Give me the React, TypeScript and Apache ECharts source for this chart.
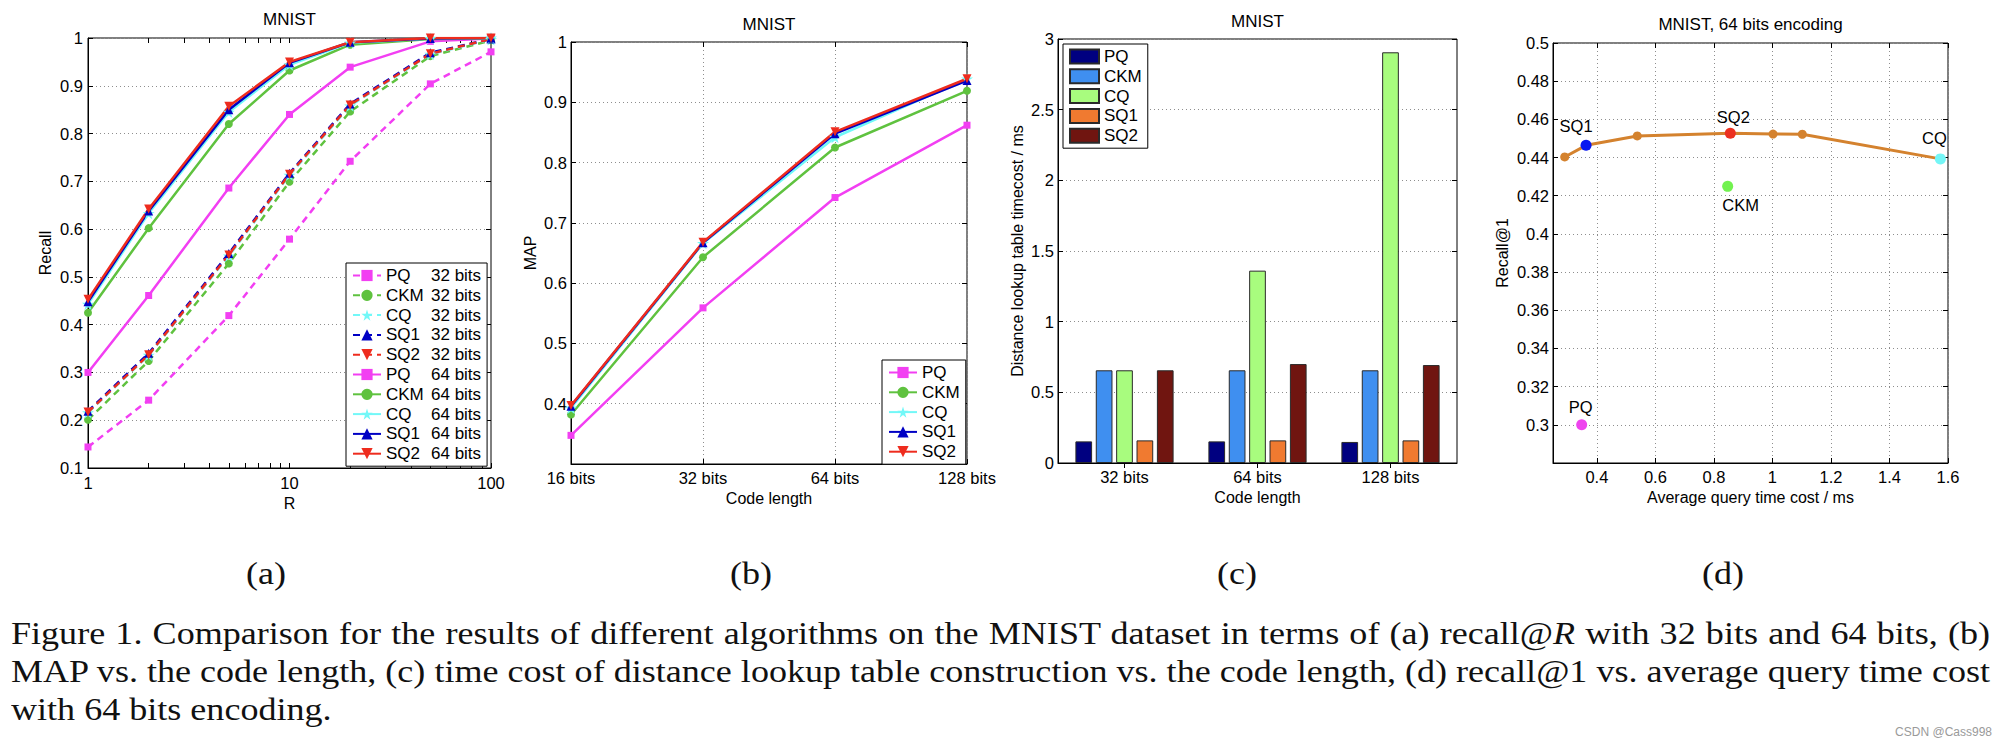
import React, { useEffect, useRef } from 'react';
import * as echarts from 'echarts';

// ---------------- data ----------------
// (a) recall@R
const rValues = [1, 2, 5, 10, 20, 50, 100];
const recallPQ32 = [0.144, 0.242, 0.419, 0.579, 0.742, 0.904, 0.971];
const recallCKM32 = [0.201, 0.324, 0.528, 0.699, 0.846, 0.962, 0.995];
const recallCQ32 = [0.216, 0.336, 0.544, 0.713, 0.858, 0.966, 0.997];
const recallSQ1_32 = [0.219, 0.34, 0.549, 0.717, 0.862, 0.969, 0.998];
const recallSQ2_32 = [0.217, 0.337, 0.546, 0.715, 0.86, 0.967, 0.998];
const recallPQ64 = [0.3, 0.461, 0.686, 0.84, 0.939, 0.993, 0.999];
const recallCKM64 = [0.425, 0.602, 0.82, 0.932, 0.986, 0.998, 0.999];
const recallCQ64 = [0.443, 0.633, 0.845, 0.944, 0.99, 0.999, 1.0];
const recallSQ1_64 = [0.448, 0.638, 0.85, 0.948, 0.991, 0.999, 1.0];
const recallSQ2_64 = [0.453, 0.642, 0.857, 0.95, 0.991, 1.0, 1.0];
const rTickValues = [1, 2, 3, 4, 5, 6, 7, 8, 9, 10, 20, 30, 40, 50, 60, 70, 80, 90, 100];

// (b) MAP vs code length
const codeLengthsB = ['16 bits', '32 bits', '64 bits', '128 bits'];
const mapPQ = [0.3475, 0.559, 0.742, 0.862];
const mapCKM = [0.382, 0.643, 0.825, 0.919];
const mapCQ = [0.393, 0.666, 0.842, 0.939];
const mapSQ1 = [0.396, 0.667, 0.848, 0.936];
const mapSQ2 = [0.397, 0.668, 0.851, 0.939];

// (c) distance lookup table timecost
const codeLengthsC = ['32 bits', '64 bits', '128 bits'];
const timePQ = [0.153, 0.153, 0.149];
const timeCKM = [0.656, 0.656, 0.656];
const timeCQ = [0.656, 1.361, 2.906];
const timeSQ1 = [0.16, 0.16, 0.16];
const timeSQ2 = [0.656, 0.7, 0.693];

// (d) recall@1 vs average query time
const sqCurveTime = [0.29, 0.363, 0.538, 0.856, 1.002, 1.102, 1.574];
const sqCurveRecall = [0.4403, 0.4464, 0.4513, 0.4527, 0.4523, 0.4522, 0.4393];
const methodNamesD = ['SQ1', 'SQ2', 'CQ', 'CKM', 'PQ'];
const methodTimeD = [0.363, 0.856, 1.574, 0.847, 0.348];
const methodRecallD = [0.4464, 0.4527, 0.4393, 0.4249, 0.3];
const dTickValues = [0.4, 0.6, 0.8, 1.0, 1.2, 1.4, 1.6];

// caption
const subLabels = ['(a)', '(b)', '(c)', '(d)'];
const captionLine1a = 'Figure 1. Comparison for the results of different algorithms on the MNIST dataset in terms of (a) recall@';
const captionLine1Italic = 'R';
const captionLine1b = ' with 32 bits and 64 bits, (b)';
const captionLine2 = 'MAP vs. the code length, (c) time cost of distance lookup table construction vs. the code length, (d) recall@1 vs. average query time cost';
const captionLine3 = 'with 64 bits encoding.';
const watermark = 'CSDN @Cass998';

// ---------------- styles ----------------
const FONT = '"Liberation Sans", Arial, Helvetica, sans-serif';
const SERIF = '"Liberation Serif", "Times New Roman", Times, serif';
const BLACK = '#000';

const COLORS: Record<string, string> = {
  PQ: '#f23ff2',
  CKM: '#5fc23f',
  CQ: '#72f8f8',
  SQ1: '#0000c4',
  SQ2: '#ee2c1e',
};
const BAR_COLORS: Record<string, string> = {
  PQ: '#000080',
  CKM: '#3f8ff0',
  CQ: '#a8fc7e',
  SQ1: '#f07a30',
  SQ2: '#701510',
};
const D_COLORS: Record<string, string> = {
  line: '#d4822e',
  SQ1: '#0818f0',
  SQ2: '#ec3020',
  CQ: '#74f6f6',
  CKM: '#72f250',
  PQ: '#ee44ee',
};
const STAR = 'path://M50,0 L61,35 L98,35 L68,57 L79,91 L50,70 L21,91 L32,57 L2,35 L39,35 Z';
const SYMBOLS: Record<string, string> = { PQ: 'rect', CKM: 'circle', CQ: STAR, SQ1: 'triangle', SQ2: 'triangle' };
const SYMBOL_SIZE: Record<string, number> = { PQ: 7, CKM: 8, CQ: 12, SQ1: 9, SQ2: 9 };

const METHODS = ['PQ', 'CKM', 'CQ', 'SQ1', 'SQ2'];

const axisLineBlack = { show: true, onZero: false, lineStyle: { color: BLACK, width: 1 } };
const tickIn = { show: true, inside: true, length: 5, lineStyle: { color: BLACK, width: 1 } };
const dotted = { show: true, lineStyle: { color: '#8e8e8e', width: 1, type: [1, 3] } };
const noSplit = { show: false };
const labelBase = { color: BLACK, fontSize: 16.5, fontFamily: FONT };
const nameBase = { color: BLACK, fontSize: 16, fontFamily: FONT };
const hidden = { show: false };

function buildOption() {
  const aDefs = [
    { name: 'PQ 32 bits', m: 'PQ', data: recallPQ32, dashed: true },
    { name: 'CKM 32 bits', m: 'CKM', data: recallCKM32, dashed: true },
    { name: 'CQ 32 bits', m: 'CQ', data: recallCQ32, dashed: true },
    { name: 'SQ1 32 bits', m: 'SQ1', data: recallSQ1_32, dashed: true },
    { name: 'SQ2 32 bits', m: 'SQ2', data: recallSQ2_32, dashed: true },
    { name: 'PQ 64 bits', m: 'PQ', data: recallPQ64, dashed: false },
    { name: 'CKM 64 bits', m: 'CKM', data: recallCKM64, dashed: false },
    { name: 'CQ 64 bits', m: 'CQ', data: recallCQ64, dashed: false },
    { name: 'SQ1 64 bits', m: 'SQ1', data: recallSQ1_64, dashed: false },
    { name: 'SQ2 64 bits', m: 'SQ2', data: recallSQ2_64, dashed: false },
  ];
  const bData: Record<string, number[]> = { PQ: mapPQ, CKM: mapCKM, CQ: mapCQ, SQ1: mapSQ1, SQ2: mapSQ2 };
  const cData: Record<string, number[]> = { PQ: timePQ, CKM: timeCKM, CQ: timeCQ, SQ1: timeSQ1, SQ2: timeSQ2 };

  const lineSeries = (name: string, m: string, data: any[], xi: number, dashed: boolean) => ({
    type: 'line',
    name,
    xAxisIndex: xi,
    yAxisIndex: xi,
    data,
    symbol: SYMBOLS[m],
    symbolSize: SYMBOL_SIZE[m],
    symbolRotate: m === 'SQ2' ? 180 : 0,
    showSymbol: true,
    showAllSymbol: true,
    lineStyle: { color: COLORS[m], width: 2.5, type: dashed ? [7, 5] : 'solid' },
    itemStyle: { color: COLORS[m], opacity: 1 },
    emphasis: { disabled: true },
    silent: true,
  });

  const series: any[] = [];
  aDefs.forEach((d) => {
    series.push(lineSeries(d.name, d.m, rValues.map((r, i) => [r, d.data[i]]), 0, d.dashed));
  });
  METHODS.forEach((m) => {
    series.push(lineSeries(m, m, bData[m], 2, false));
  });
  METHODS.forEach((m) => {
    series.push({
      type: 'bar',
      name: m + ' (c)',
      xAxisIndex: 4,
      yAxisIndex: 4,
      data: cData[m],
      barWidth: 16.7,
      barGap: '22%',
      itemStyle: { color: BAR_COLORS[m], borderColor: '#2a2a2a', borderWidth: 1 },
      emphasis: { disabled: true },
      silent: true,
    });
  });
  series.push({
    type: 'line',
    name: 'SQ curve (d)',
    xAxisIndex: 6,
    yAxisIndex: 6,
    data: sqCurveTime.map((t, i) => [t, sqCurveRecall[i]]),
    symbol: 'circle',
    symbolSize: 9,
    lineStyle: { color: D_COLORS.line, width: 3 },
    itemStyle: { color: D_COLORS.line, opacity: 1 },
    emphasis: { disabled: true },
    silent: true,
    z: 2,
  });
  const labelPos: Record<string, any> = {
    SQ1: { position: 'top', distance: 5, offset: [-10, 0] },
    SQ2: { position: 'top', distance: 2, offset: [3, 0] },
    CQ: { position: 'top', distance: 7, offset: [-6, 0] },
    CKM: { position: 'bottom', distance: 5, offset: [13, 0] },
    PQ: { position: 'top', distance: 4, offset: [-1, 0] },
  };
  series.push({
    type: 'scatter',
    name: 'methods (d)',
    xAxisIndex: 6,
    yAxisIndex: 6,
    symbolSize: 11,
    z: 5,
    itemStyle: { opacity: 1 },
    data: methodNamesD.map((n, i) => ({
      name: n,
      value: [methodTimeD[i], methodRecallD[i]],
      itemStyle: { color: D_COLORS[n], opacity: 1 },
      label: { show: true, formatter: '{b}', color: BLACK, fontSize: 16.5, fontFamily: FONT, ...labelPos[n] },
    })),
    emphasis: { disabled: true },
    silent: true,
  });

  const legendCommon = {
    orient: 'vertical',
    itemWidth: 28,
    itemHeight: 14,
    itemGap: 2.8,
    padding: [4, 6, 4, 6],
    backgroundColor: '#fff',
    borderColor: BLACK,
    borderWidth: 1,
    borderRadius: 0,
    selectedMode: false,
    textStyle: { color: BLACK, fontSize: 17, fontFamily: FONT, lineHeight: 17 },
  };

  const grids = [
    { left: 88, top: 38, width: 403, height: 430 },
    { left: 571, top: 42, width: 396, height: 422 },
    { left: 1058, top: 39, width: 399, height: 424 },
    { left: 1553, top: 43, width: 395, height: 420 },
  ].map((g) => ({ ...g, show: true, borderColor: BLACK, borderWidth: 1, backgroundColor: 'transparent', containLabel: false }));

  const yFmt = (hideBelow: number) => (v: number) => (v < hideBelow ? '' : String(parseFloat(v.toFixed(4))));

  const xAxis = [
    {
      gridIndex: 0, type: 'log', logBase: 10, min: 1, max: 100, position: 'bottom',
      axisLine: axisLineBlack, axisTick: { ...tickIn, customValues: rTickValues },
      axisLabel: { ...labelBase, margin: 6 }, splitLine: noSplit,
      name: 'R', nameLocation: 'middle', nameGap: 21, nameTextStyle: nameBase,
    },
    {
      gridIndex: 0, type: 'log', logBase: 10, min: 1, max: 100, position: 'top',
      axisLine: hidden, axisTick: { ...tickIn, customValues: rTickValues }, axisLabel: hidden, splitLine: noSplit,
    },
    {
      gridIndex: 1, type: 'category', data: codeLengthsB, boundaryGap: false, position: 'bottom',
      axisLine: axisLineBlack, axisTick: { ...tickIn, interval: 0 }, axisLabel: { ...labelBase, margin: 5, interval: 0 },
      splitLine: { ...dotted, interval: 0 },
      name: 'Code length', nameLocation: 'middle', nameGap: 21, nameTextStyle: nameBase,
    },
    {
      gridIndex: 1, type: 'category', data: codeLengthsB, boundaryGap: false, position: 'top',
      axisLine: hidden, axisTick: { ...tickIn, interval: 0 }, axisLabel: hidden, splitLine: noSplit,
    },
    {
      gridIndex: 2, type: 'category', data: codeLengthsC, boundaryGap: true, position: 'bottom',
      axisLine: axisLineBlack, axisTick: { ...tickIn, alignWithLabel: true, interval: 0 },
      axisLabel: { ...labelBase, margin: 5, interval: 0 }, splitLine: noSplit,
      name: 'Code length', nameLocation: 'middle', nameGap: 20, nameTextStyle: nameBase,
    },
    {
      gridIndex: 2, type: 'category', data: codeLengthsC, boundaryGap: true, position: 'top',
      axisLine: hidden, axisTick: { ...tickIn, alignWithLabel: true, interval: 0 }, axisLabel: hidden, splitLine: noSplit,
    },
    {
      gridIndex: 3, type: 'value', min: 0.25, max: 1.6, splitNumber: 7, position: 'bottom',
      axisLine: axisLineBlack, axisTick: { ...tickIn, customValues: dTickValues },
      axisLabel: { ...labelBase, margin: 5, customValues: dTickValues, showMinLabel: true, showMaxLabel: true },
      splitLine: dotted,
      name: 'Average query time cost / ms', nameLocation: 'middle', nameGap: 21, nameTextStyle: nameBase,
    },
    {
      gridIndex: 3, type: 'value', min: 0.25, max: 1.6, splitNumber: 7, position: 'top',
      axisLine: hidden, axisTick: { ...tickIn, customValues: dTickValues }, axisLabel: hidden, splitLine: noSplit,
    },
  ];

  const yAxis = [
    {
      gridIndex: 0, type: 'value', min: 0.1, max: 1, interval: 0.1, position: 'left',
      axisLine: axisLineBlack, axisTick: tickIn, axisLabel: { ...labelBase, margin: 5, formatter: yFmt(0) },
      splitLine: dotted, name: 'Recall', nameLocation: 'middle', nameGap: 35, nameTextStyle: nameBase,
    },
    { gridIndex: 0, type: 'value', min: 0.1, max: 1, interval: 0.1, position: 'right', axisLine: hidden, axisTick: tickIn, axisLabel: hidden, splitLine: noSplit },
    {
      gridIndex: 1, type: 'value', min: 0.3, max: 1, interval: 0.1, position: 'left',
      axisLine: axisLineBlack, axisTick: tickIn, axisLabel: { ...labelBase, margin: 4, formatter: yFmt(0.35) },
      splitLine: dotted, name: 'MAP', nameLocation: 'middle', nameGap: 33, nameTextStyle: nameBase,
    },
    { gridIndex: 1, type: 'value', min: 0.3, max: 1, interval: 0.1, position: 'right', axisLine: hidden, axisTick: tickIn, axisLabel: hidden, splitLine: noSplit },
    {
      gridIndex: 2, type: 'value', min: 0, max: 3, interval: 0.5, position: 'left',
      axisLine: axisLineBlack, axisTick: tickIn, axisLabel: { ...labelBase, margin: 4, formatter: yFmt(-1) },
      splitLine: dotted, name: 'Distance lookup table timecost / ms', nameLocation: 'middle', nameGap: 33, nameTextStyle: nameBase,
    },
    { gridIndex: 2, type: 'value', min: 0, max: 3, interval: 0.5, position: 'right', axisLine: hidden, axisTick: tickIn, axisLabel: hidden, splitLine: noSplit },
    {
      gridIndex: 3, type: 'value', min: 0.28, max: 0.5, interval: 0.02, position: 'left',
      axisLine: axisLineBlack, axisTick: tickIn, axisLabel: { ...labelBase, margin: 4, formatter: yFmt(0.29) },
      splitLine: dotted, name: 'Recall@1', nameLocation: 'middle', nameGap: 43, nameTextStyle: nameBase,
    },
    { gridIndex: 3, type: 'value', min: 0.28, max: 0.5, interval: 0.02, position: 'right', axisLine: hidden, axisTick: tickIn, axisLabel: hidden, splitLine: noSplit },
  ];

  const legend = [
    {
      ...legendCommon,
      data: aDefs.map((d) => d.name),
      left: 346,
      top: 263,
      formatter: (n: string) => {
        const i = n.indexOf(' ');
        return `{m|${n.slice(0, i)}}{b|${n.slice(i + 1)}}`;
      },
      textStyle: {
        ...legendCommon.textStyle,
        rich: {
          m: { width: 45, color: BLACK, fontSize: 17, fontFamily: FONT, lineHeight: 17 },
          b: { color: BLACK, fontSize: 17, fontFamily: FONT, lineHeight: 17 },
        },
      },
    },
    { ...legendCommon, data: METHODS.slice(), left: 882, top: 360 },
    {
      ...legendCommon,
      data: METHODS.map((m) => m + ' (c)'),
      left: 1063,
      top: 44,
      icon: 'rect',
      itemWidth: 29,
      formatter: (n: string) => n.replace(' (c)', ''),
    },
  ];

  const titles = [
    { text: 'MNIST', x: 289.5, y: 19 },
    { text: 'MNIST', x: 769, y: 24 },
    { text: 'MNIST', x: 1257.5, y: 21 },
    { text: 'MNIST, 64 bits encoding', x: 1750.5, y: 24 },
  ];

  return {
    animation: false,
    backgroundColor: '#fff',
    grid: grids,
    xAxis,
    yAxis,
    legend,
    series,
    graphic: titles.map((t) => ({
      type: 'text',
      x: t.x,
      y: t.y,
      silent: true,
      style: {
        text: t.text,
        fill: BLACK,
        fontSize: 17,
        fontFamily: FONT,
        align: 'center',
        verticalAlign: 'middle',
        textAlign: 'center',
        textVerticalAlign: 'middle',
      },
    })),
  };
}

const CAPTION_LEFT = 11;
const CAPTION_WIDTH = 1979;
const CAPTION_FONT = 32;
const SUB_X = [266, 751, 1237, 1723];

export default function App() {
  const chartRef = useRef<HTMLDivElement>(null);
  const l1 = useRef<HTMLSpanElement>(null);
  const l2 = useRef<HTMLSpanElement>(null);
  const l3 = useRef<HTMLSpanElement>(null);
  const subRefs = useRef<(HTMLSpanElement | null)[]>([]);

  useEffect(() => {
    const chart = echarts.init(chartRef.current as HTMLDivElement, null, { renderer: 'svg' });
    chart.setOption(buildOption() as any);

    // fit caption lines to the justified width of the reference
    const a = l1.current, b = l2.current, c = l3.current;
    if (a && b && c) {
      const w1 = a.getBoundingClientRect().width;
      const w2 = b.getBoundingClientRect().width;
      const g = CAPTION_WIDTH / Math.max(w1, w2);
      [[a, w1], [b, w2]].forEach(([el, w]: any) => {
        const spaces = (el.textContent.match(/ /g) || []).length;
        el.style.wordSpacing = (CAPTION_WIDTH / g - w) / spaces + 'px';
        el.style.transform = `scaleX(${g})`;
      });
      c.style.transform = `scaleX(${g})`;
      subRefs.current.forEach((el) => {
        if (el) el.style.transform = `translateX(-50%) scaleX(${g})`;
      });
    }
    return () => chart.dispose();
  }, []);

  const lineStyle = (top: number): React.CSSProperties => ({
    position: 'absolute',
    left: CAPTION_LEFT,
    top,
    display: 'inline-block',
    whiteSpace: 'nowrap',
    fontFamily: SERIF,
    fontSize: CAPTION_FONT,
    lineHeight: '38px',
    color: '#111',
    transformOrigin: '0 0',
  });

  return (
    <div style={{ position: 'absolute', left: 0, top: 0, width: 2006, height: 746, background: '#fff', overflow: 'hidden' }}>
      <div ref={chartRef} style={{ position: 'absolute', left: 0, top: 0, width: 2006, height: 560 }} />
      {subLabels.map((s, i) => (
        <span
          key={s}
          ref={(el) => { subRefs.current[i] = el; }}
          style={{
            position: 'absolute',
            left: SUB_X[i],
            top: 554,
            display: 'inline-block',
            whiteSpace: 'nowrap',
            fontFamily: SERIF,
            fontSize: CAPTION_FONT,
            lineHeight: '38px',
            color: '#111',
            transform: 'translateX(-50%)',
            transformOrigin: '50% 0',
          }}
        >
          {s}
        </span>
      ))}
      <span ref={l1} style={lineStyle(614)}>
        {captionLine1a}
        <i>{captionLine1Italic}</i>
        {captionLine1b}
      </span>
      <span ref={l2} style={lineStyle(652)}>{captionLine2}</span>
      <span ref={l3} style={lineStyle(690)}>{captionLine3}</span>
      <span
        style={{
          position: 'absolute',
          right: 14,
          top: 725,
          fontFamily: FONT,
          fontSize: 12,
          lineHeight: '14px',
          color: '#9a9a9a',
          whiteSpace: 'nowrap',
        }}
      >
        {watermark}
      </span>
    </div>
  );
}
